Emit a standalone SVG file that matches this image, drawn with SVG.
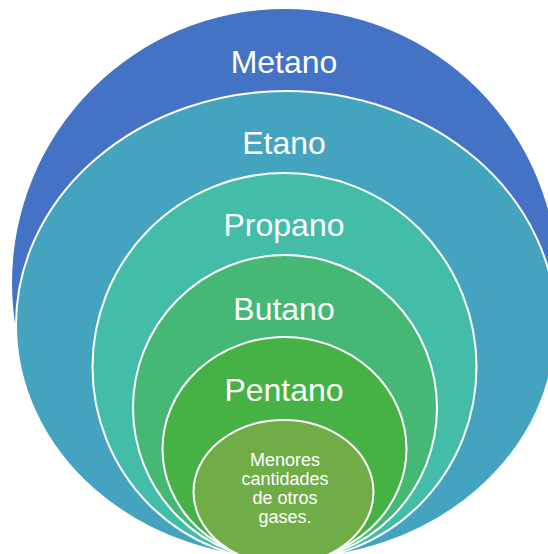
<svg xmlns="http://www.w3.org/2000/svg" width="548" height="554" viewBox="0 0 548 554">
  <style>
    .ring { stroke: #FFFFFF; stroke-width: 2; }
    .lbl { font-family: "Liberation Sans", Arial, sans-serif; font-size: 32px; fill: #FFFFFF; text-anchor: middle; }
    .small { font-family: "Liberation Sans", Arial, sans-serif; font-size: 18px; fill: #FFFFFF; text-anchor: middle; }
  </style>
  <rect width="548" height="554" fill="#FFFFFF"/>
  <g id="metano">
    <ellipse cx="285" cy="283" rx="273" ry="274" fill="#4472C4"/>
    <text class="lbl" x="284" y="73">Metano</text>
  </g>
  <g id="etano">
    <ellipse class="ring" cx="286" cy="325" rx="270" ry="234" fill="#44A4C0"/>
    <text class="lbl" x="284" y="154">Etano</text>
  </g>
  <g id="propano">
    <ellipse class="ring" cx="284.5" cy="367" rx="192" ry="194" fill="#43BDA7"/>
    <text class="lbl" x="284" y="236">Propano</text>
  </g>
  <g id="butano">
    <ellipse class="ring" cx="285" cy="408" rx="152" ry="153" fill="#44B874"/>
    <text class="lbl" x="284" y="319.5">Butano</text>
  </g>
  <g id="pentano">
    <ellipse class="ring" cx="284.5" cy="449" rx="122" ry="112" fill="#46B246"/>
    <text class="lbl" x="284" y="401">Pentano</text>
  </g>
  <g id="otros">
    <ellipse class="ring" cx="283.5" cy="492" rx="90" ry="72" fill="#70AD47"/>
    <text class="small" x="285" y="465.5">Menores</text>
    <text class="small" x="285" y="484.5">cantidades</text>
    <text class="small" x="285" y="503.5">de otros</text>
    <text class="small" x="285" y="522.5">gases.</text>
  </g>
  <g id="connectors"></g>
</svg>
